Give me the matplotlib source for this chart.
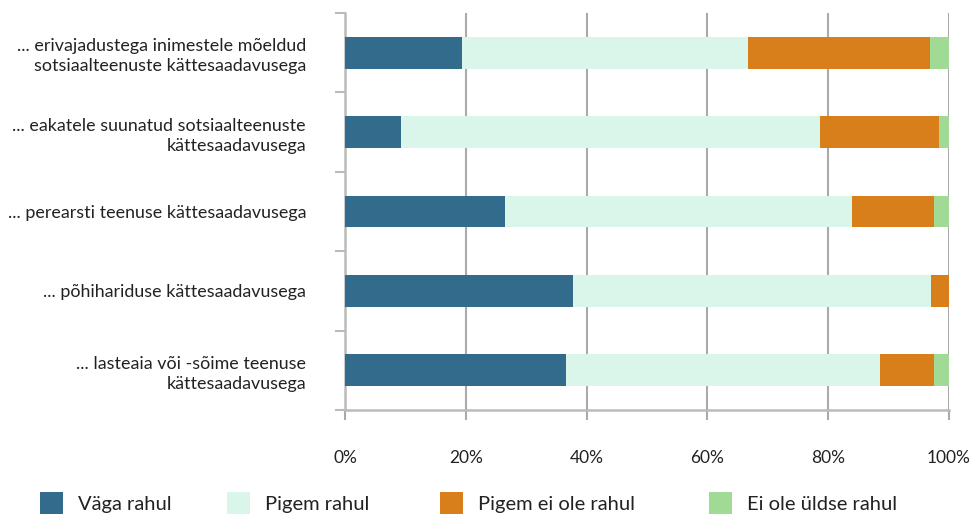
import matplotlib
matplotlib.use("Agg")
import matplotlib.pyplot as plt
from matplotlib.patches import Patch
import numpy as np

categories = [
    "... erivajadustega inimestele mõeldud\nsotsiaalteenuste kättesaadavusega",
    "... eakatele suunatud sotsiaalteenuste\nkättesaadavusega",
    "... perearsti teenuse kättesaadavusega",
    "... põhihariduse kättesaadavusega",
    "... lasteaia või -sõime teenuse\nkättesaadavusega",
]
series_names = ["Väga rahul", "Pigem rahul", "Pigem ei ole rahul", "Ei ole üldse rahul"]
vaga_rahul = [19.3, 9.3, 26.5, 37.7, 36.6]
pigem_rahul = [47.4, 69.3, 57.4, 59.3, 51.9]
pigem_ei_ole = [30.1, 19.8, 13.6, 3.0, 9.0]
ei_ole_yldse = [3.2, 1.6, 2.5, 0.0, 2.5]
x_ticks = [0, 20, 40, 60, 80, 100]
x_tick_labels = ["0%", "20%", "40%", "60%", "80%", "100%"]

colors = ["#336b8c", "#daf5ea", "#d87e1a", "#a0da94"]

plt.rcParams['font.family'] = ['Lato', 'DejaVu Sans']

fig = plt.figure(figsize=(9.72, 5.15), dpi=100)
ax = fig.add_axes([345/972, 1-410/515, (949-345)/972, (410-13)/515])

y = np.arange(len(categories))
left = np.zeros(len(categories))
for vals, col in zip([vaga_rahul, pigem_rahul, pigem_ei_ole, ei_ole_yldse], colors):
    v = np.array(vals)
    ax.barh(y, v, left=left, height=0.4, color=col, zorder=3)
    left += v

ax.set_xlim(0, 100)
ax.set_ylim(len(categories) - 0.5, -0.5)
ax.set_xticks(x_ticks)
ax.set_xticklabels(x_tick_labels, fontsize=12.5, color="#222222")
ax.set_yticks(y)
ax.set_yticklabels(categories, fontsize=12.9, color="#222222", linespacing=1.3)
ax.set_yticks(np.arange(-0.5, len(categories)), minor=True)
ax.tick_params(axis='y', which='major', length=0, pad=28)
ax.tick_params(axis='y', which='minor', length=7, color="#bbbbbb", width=1.5)
ax.tick_params(axis='x', which='major', length=7, color="#aaaaaa", width=1.5, pad=22)
ax.grid(axis='x', color="#aaaaaa", linewidth=1.5, zorder=0)

for s in ['top', 'right']:
    ax.spines[s].set_visible(False)
ax.spines['left'].set_color("#bbbbbb")
ax.spines['left'].set_linewidth(1.8)
ax.spines['bottom'].set_color("#bbbbbb")
ax.spines['bottom'].set_linewidth(1.8)
ax.spines['bottom'].set_zorder(4)

legend_x = [40, 227, 440, 709]
for name, col, lx in zip(series_names, colors, legend_x):
    fig.legend(handles=[Patch(facecolor=col, edgecolor='none')], labels=[name],
               loc='center left', bbox_to_anchor=(lx/972, 1-503/515),
               frameon=False, fontsize=14.5, handlelength=1.15, handleheight=1.3,
               handletextpad=0.75, borderpad=0, borderaxespad=0, labelcolor="#222222")

fig.savefig("out.png", dpi=100)
